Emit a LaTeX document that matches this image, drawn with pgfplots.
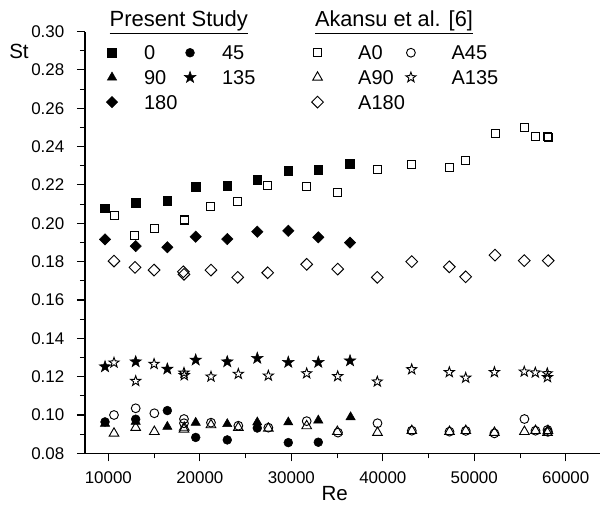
\documentclass[border=0pt]{standalone}
\usepackage{fontspec}
\setmainfont{Liberation Sans}
\usepackage{pgfplots}
\pgfplotsset{compat=1.18}
\usetikzlibrary{plotmarks}

% five-pointed star marks, filled and open
\pgfdeclareplotmark{fstar}{%
  \pgfpathmoveto{\pgfpointpolar{90}{\pgfplotmarksize}}%
  \pgfpathlineto{\pgfpointpolar{126}{0.4\pgfplotmarksize}}%
  \pgfpathlineto{\pgfpointpolar{162}{\pgfplotmarksize}}%
  \pgfpathlineto{\pgfpointpolar{198}{0.4\pgfplotmarksize}}%
  \pgfpathlineto{\pgfpointpolar{234}{\pgfplotmarksize}}%
  \pgfpathlineto{\pgfpointpolar{270}{0.4\pgfplotmarksize}}%
  \pgfpathlineto{\pgfpointpolar{306}{\pgfplotmarksize}}%
  \pgfpathlineto{\pgfpointpolar{342}{0.4\pgfplotmarksize}}%
  \pgfpathlineto{\pgfpointpolar{18}{\pgfplotmarksize}}%
  \pgfpathlineto{\pgfpointpolar{54}{0.4\pgfplotmarksize}}%
  \pgfpathclose\pgfusepathqfillstroke}
\pgfdeclareplotmark{ostar}{%
  \pgfpathmoveto{\pgfpointpolar{90}{\pgfplotmarksize}}%
  \pgfpathlineto{\pgfpointpolar{126}{0.4\pgfplotmarksize}}%
  \pgfpathlineto{\pgfpointpolar{162}{\pgfplotmarksize}}%
  \pgfpathlineto{\pgfpointpolar{198}{0.4\pgfplotmarksize}}%
  \pgfpathlineto{\pgfpointpolar{234}{\pgfplotmarksize}}%
  \pgfpathlineto{\pgfpointpolar{270}{0.4\pgfplotmarksize}}%
  \pgfpathlineto{\pgfpointpolar{306}{\pgfplotmarksize}}%
  \pgfpathlineto{\pgfpointpolar{342}{0.4\pgfplotmarksize}}%
  \pgfpathlineto{\pgfpointpolar{18}{\pgfplotmarksize}}%
  \pgfpathlineto{\pgfpointpolar{54}{0.4\pgfplotmarksize}}%
  \pgfpathclose\pgfusepathqstroke}

\pgfplotsset{
  base/.style={
    scale only axis, width=386.25pt, height=316.3pt,
    xmin=7450, xmax=63740, ymin=0.08, ymax=0.30, clip=false,
    axis x line*=bottom, axis y line*=left,
    axis line style={-, line width=0.9pt},
    tick align=outside, major tick length=6pt, minor tick length=3.75pt,
    tick style={line width=0.8pt, black},
    xtick={10000,20000,30000,40000,50000,60000},
    ytick={0.08,0.10,0.12,0.14,0.16,0.18,0.20,0.22,0.24,0.26,0.28,0.30},
    minor x tick num=1, minor y tick num=1,
    scaled x ticks=false, scaled y ticks=false,
    tick label style={font=\fontsize{12.7}{15}\selectfont},
    xticklabel style={yshift=-4pt, /pgf/number format/.cd, set thousands separator={}, assume math mode=true},
    yticklabel style={xshift=-6pt, /pgf/number format/.cd, fixed, fixed zerofill, precision=2, assume math mode=true},
    legend columns=2,
    legend cell align=left,
  },
  leg/.style n args={3}{
    legend style={draw=none, fill=none, inner sep=0pt, outer sep=0pt,
      at={(axis description cs:#1,1)}, anchor=north west, yshift=-10.5pt,
      font=\fontsize{15}{18}\selectfont, row sep=7.8pt,
      nodes={inner sep=0pt, text height=10.7pt, text depth=0pt, anchor=west},
      /tikz/every even column/.append style={column sep=#3}},
    legend image code/.code={\path[draw=none] (-5pt,0pt) -- (#2,0pt); \draw[##1] plot coordinates {(0pt,0pt)};},
  },
}

\begin{document}
\begin{tikzpicture}
\useasboundingbox (-63.75pt,-38pt) rectangle (386.25pt,340pt);

% Akansu et al. data (open marks)
\begin{axis}[base, hide axis, leg={0.4386}{30.5pt}{-0.5pt}]
\addplot[only marks, black, mark=square, mark size=3pt, mark options={line width=0.7pt}] coordinates {
 (10620,0.2043) (12810,0.1939) (15000,0.1974) (18270,0.2021) (18300,0.2016) (21180,0.2086)
 (24140,0.2112) (27420,0.2196) (31680,0.2191) (35070,0.2159) (39400,0.2280) (43160,0.2305)
 (47270,0.2292) (49060,0.2328) (52260,0.2466) (55460,0.2500) (56670,0.2452) (57980,0.2452) (58100,0.2450) };
\addplot[only marks, black, mark=o, mark size=3.3pt, mark options={line width=0.7pt}] coordinates {
 (10620,0.1000) (12990,0.1035) (15030,0.1009) (18270,0.0979) (18270,0.0957) (21220,0.0960)
 (24210,0.0944) (27490,0.0934) (31680,0.0968) (35100,0.0908) (39420,0.0957) (43170,0.0918)
 (47290,0.0913) (49070,0.0917) (52200,0.0904) (55480,0.0979) (56690,0.0918) (58000,0.0922) (58050,0.0912) };
\addplot[only marks, black, mark=triangle, mark size=4.2pt, mark options={line width=0.7pt}] coordinates {
 (10620,0.0904) (12990,0.0934) (15030,0.0913) (18270,0.0925) (18300,0.0935) (21220,0.0948)
 (24210,0.0934) (27490,0.0930) (31680,0.0943) (35030,0.0913) (39420,0.0908) (43170,0.0918)
 (47290,0.0913) (49070,0.0918) (52200,0.0908) (55480,0.0913) (56690,0.0918) (58000,0.0908) (58050,0.0918) };
\addplot[only marks, black, mark=ostar, mark size=4pt, mark options={line width=0.7pt}] coordinates {
 (10620,0.1273) (12990,0.1177) (15000,0.1266) (18270,0.1220) (18300,0.1207) (21220,0.1200)
 (24210,0.1214) (27490,0.1205) (31680,0.1217) (35070,0.1202) (39400,0.1174) (43160,0.1238)
 (47270,0.1223) (49060,0.1194) (52200,0.1223) (55460,0.1226) (56670,0.1221) (57980,0.1217) (58000,0.1197) };
\addplot[only marks, black, mark=square, mark size=3.1pt, mark options={rotate=45, line width=0.7pt}] coordinates {
 (10620,0.1803) (12920,0.1770) (15000,0.1756) (18200,0.1747) (18270,0.1734) (21220,0.1756)
 (24140,0.1718) (27420,0.1742) (31680,0.1786) (35070,0.1761) (39400,0.1718) (43160,0.1800)
 (47270,0.1773) (49060,0.1721) (52260,0.1834) (55460,0.1805) (58080,0.1805) };
\legend{A0, A45, A90, A135, A180}
\node[anchor=base west, font=\fontsize{16.3}{19}\selectfont, xshift=169pt, yshift=3.5pt] at (axis description cs:0,1) {\underline{Akansu et al. [6]}};
\end{axis}

% present study (filled marks) and the axes
\begin{axis}[base, leg={0.0395}{24pt}{4.5pt},
  xlabel={Re},
  xlabel style={font=\fontsize{15.4}{18}\selectfont, at={(axis description cs:0.485,0)}, anchor=center, yshift=-30.5pt},
]
\addplot[only marks, black, mark=square*, mark size=3.25pt] coordinates {
 (9640,0.2078) (12990,0.2107) (16450,0.2118) (19550,0.2191) (23000,0.2196)
 (26280,0.2226) (29670,0.2274) (32950,0.2278) (36420,0.2309) };
\addplot[only marks, black, mark=*, mark size=3.3pt] coordinates {
 (9640,0.0964) (12990,0.0978) (16450,0.1023) (19550,0.0883) (23000,0.0870)
 (26280,0.0932) (29670,0.0856) (32950,0.0858) };
\addplot[only marks, black, mark=triangle*, mark size=4pt] coordinates {
 (9640,0.0955) (12990,0.0965) (16450,0.0939) (19550,0.0960) (23000,0.0953)
 (26280,0.0962) (29670,0.0962) (32950,0.0972) (36480,0.0989) };
\addplot[only marks, black, mark=fstar, mark size=4.6pt] coordinates {
 (9640,0.1252) (12990,0.1278) (16450,0.1240) (19550,0.1287) (23000,0.1278)
 (26280,0.1296) (29670,0.1275) (32950,0.1275) (36420,0.1283) };
\addplot[only marks, black, mark=square*, mark size=3pt, mark options={rotate=45}] coordinates {
 (9640,0.1916) (12990,0.1881) (16450,0.1875) (19550,0.1930) (23000,0.1918)
 (26280,0.1956) (29670,0.1961) (32950,0.1927) (36420,0.1899) };
\legend{0, 45, 90, 135, 180}
\node[anchor=base west, font=\fontsize{16.5}{19}\selectfont, xshift=15pt, yshift=3.5pt] at (axis description cs:0,1) {\underline{Present Study}};
\node[anchor=center, font=\fontsize{15.4}{18}\selectfont, xshift=-49.5pt, yshift=-14.5pt] at (axis description cs:0,1) {St};
\end{axis}
\end{tikzpicture}
\end{document}
